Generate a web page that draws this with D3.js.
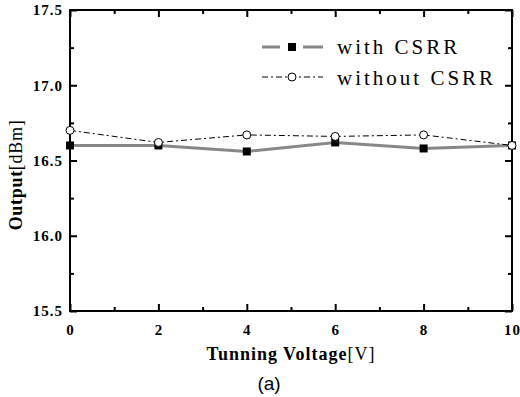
<!DOCTYPE html>
<html><head><meta charset="utf-8">
<script src="https://cdn.jsdelivr.net/npm/d3@7"></script>
<style>body{margin:0;background:#fff}svg{display:block}
.serif{font-family:"Liberation Serif","DejaVu Serif",serif}</style>
</head><body>
<script>
const voltages = [0, 2, 4, 6, 8, 10];
const withCSRR = [16.60, 16.60, 16.56, 16.62, 16.58, 16.60];
const withoutCSRR = [16.70, 16.62, 16.67, 16.66, 16.67, 16.60];
const xTicks = [0, 2, 4, 6, 8, 10];
const yTicks = [15.5, 16.0, 16.5, 17.0, 17.5];
const seriesNames = ["with CSRR", "without CSRR"];

const W = 520, H = 397;
const L = 70, R = 512, T = 10, B = 311;
const svg = d3.select("body").append("svg").attr("width", W).attr("height", H);
const x = d3.scaleLinear().domain([0, 10]).range([L, R]);
const y = d3.scaleLinear().domain([15.5, 17.5]).range([B, T]);

const minorX = d3.range(1, 10, 2);
const minorY = [15.75, 16.25, 16.75, 17.25];
function ax(gen, tx, ty) {
  const g = svg.append("g").attr("transform", `translate(${tx},${ty})`).call(gen);
  g.select(".domain").remove();
  g.selectAll("line").attr("stroke", "#000").attr("stroke-width", 2);
  g.selectAll("text").attr("class", "serif");
  return g;
}
const gb = ax(d3.axisBottom(x).tickValues(xTicks).tickSize(-7).tickFormat(d3.format("d")), 0, B);
gb.selectAll("text").attr("y", 13).style("font-weight", "bold").style("font-size", "15px").style("letter-spacing", "1px").attr("fill", "#000");
ax(d3.axisBottom(x).tickValues(minorX).tickSize(-4).tickFormat(""), 0, B);
ax(d3.axisTop(x).tickValues(xTicks).tickSize(-7).tickFormat(""), 0, T);
ax(d3.axisTop(x).tickValues(minorX).tickSize(-4).tickFormat(""), 0, T);
const gl = ax(d3.axisLeft(y).tickValues(yTicks).tickSize(-7).tickFormat(d3.format(".1f")), L, 0);
gl.selectAll("text").attr("x", -7).style("font-weight", "bold").style("font-size", "15px").style("letter-spacing", "1px").attr("fill", "#000");
ax(d3.axisLeft(y).tickValues(minorY).tickSize(-4).tickFormat(""), L, 0);
ax(d3.axisRight(y).tickValues(yTicks).tickSize(-7).tickFormat(""), R, 0);
ax(d3.axisRight(y).tickValues(minorY).tickSize(-4).tickFormat(""), R, 0);

svg.append("rect").attr("x", L).attr("y", T).attr("width", R - L).attr("height", B - T)
  .attr("fill", "none").attr("stroke", "#000").attr("stroke-width", 2);

const line = d3.line().x(d => x(d[0])).y(d => y(d[1]));
const d1 = voltages.map((v, i) => [v, withCSRR[i]]);
const d2 = voltages.map((v, i) => [v, withoutCSRR[i]]);

svg.append("path").attr("d", line(d1)).attr("fill", "none").attr("stroke", "#888").attr("stroke-width", 3);
svg.append("path").attr("d", line(d2)).attr("fill", "none").attr("stroke", "#000").attr("stroke-width", 1).attr("stroke-dasharray", "6,3,2,3");

svg.selectAll(".sq").data(d1).enter().append("rect")
  .attr("x", d => x(d[0]) - 4).attr("y", d => y(d[1]) - 4).attr("width", 8).attr("height", 8).attr("fill", "#000");
svg.selectAll(".ci").data(d2).enter().append("circle")
  .attr("cx", d => x(d[0])).attr("cy", d => y(d[1])).attr("r", 4)
  .attr("fill", "#fff").attr("stroke", "#000").attr("stroke-width", 1);

const lg = svg.append("g");
lg.append("line").attr("x1", 262).attr("x2", 323).attr("y1", 47).attr("y2", 47)
  .attr("stroke", "#888").attr("stroke-width", 3).attr("stroke-dasharray", "18,23,20");
lg.append("rect").attr("x", 288).attr("y", 43).attr("width", 8).attr("height", 8).attr("fill", "#000");
lg.append("line").attr("x1", 262).attr("x2", 323).attr("y1", 77).attr("y2", 77)
  .attr("stroke", "#000").attr("stroke-width", 1).attr("stroke-dasharray", "6,3,2,3");
lg.append("circle").attr("cx", 292).attr("cy", 77).attr("r", 4).attr("fill", "#fff").attr("stroke", "#000");
lg.append("text").attr("class", "serif").attr("x", 337).attr("y", 54).text(seriesNames[0])
  .style("font-size", "21px").style("letter-spacing", "3px");
lg.append("text").attr("class", "serif").attr("x", 337).attr("y", 85).text(seriesNames[1])
  .style("font-size", "21px").style("letter-spacing", "3px");

const xt = svg.append("text").attr("class", "serif").attr("x", 291).attr("y", 360).attr("text-anchor", "middle")
  .style("font-size", "18px").style("letter-spacing", "1px");
xt.append("tspan").style("font-weight", "bold").text("Tunning Voltage");
xt.append("tspan").text("[V]");
const yt = svg.append("text").attr("class", "serif").attr("transform", `translate(22,175) rotate(-90)`).attr("text-anchor", "middle")
  .style("font-size", "18px").style("letter-spacing", "0.7px");
yt.append("tspan").style("font-weight", "bold").text("Output");
yt.append("tspan").text("[dBm]");

svg.append("text").attr("x", 269).attr("y", 390).attr("text-anchor", "middle")
  .style("font-family", "'Liberation Sans',Arial,sans-serif").style("font-size", "19px").text("(a)");
</script>
</body></html>
